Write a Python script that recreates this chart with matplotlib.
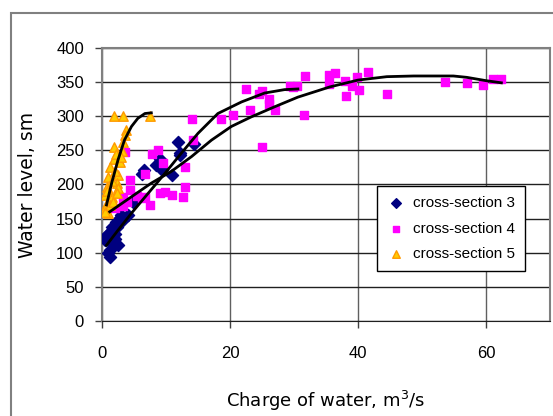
import numpy as np
import matplotlib.pyplot as plt
import matplotlib.patches as patches

# data
s3_x = [0.5, 0.7, 0.8, 1.0, 1.0, 1.2, 1.25, 1.4, 1.5, 1.6, 1.8, 2.0, 2.0, 2.2, 2.3, 2.5,
        2.7, 3.0, 3.3, 4.1, 4.9, 6.2, 6.5, 8.5, 9.1, 9.3, 10.9, 11.9, 12.2, 12.2, 14.4]
s3_y = [118, 121, 126, 128, 100, 94, 104, 115, 132, 138, 112, 128, 120, 145, 138, 111,
        150, 155, 148, 155, 175, 216, 221, 229, 238, 221, 214, 263, 246, 243, 259]

s4_x = [2.0, 3.3, 3.3, 3.9, 4.4, 4.4, 3.6, 5.5, 6.3, 6.7, 7.5, 7.8, 8.8, 9.1, 9.8,
        10.9, 12.7, 13.0, 13.0, 14.0, 14.2, 9.5, 6.7, 18.6, 20.4, 22.5, 23.1, 24.5,
        25.0, 25.0, 26.1, 26.1, 27.0, 29.4, 29.9, 30.4, 31.5, 31.7, 35.4, 36.4, 35.5,
        38.0, 38.1, 39.0, 39.8, 40.2, 41.6, 44.5, 53.6, 57.1, 59.6, 61.1, 62.3]
s4_y = [165, 182, 168, 175, 192, 207, 248, 183, 180, 182, 170, 245, 251, 187, 189,
        185, 181, 197, 225, 296, 265, 231, 216, 296, 302, 340, 309, 333,
        337, 255, 326, 318, 309, 344, 343, 345, 302, 359, 361, 364, 347,
        351, 330, 345, 357, 338, 365, 333, 350, 349, 346, 354, 354]

s5_x = [1.9, 3.3, 7.5, 3.75, 3.6, 3.3, 3.1, 1.8, 2.8, 1.25, 2.5, 1.0, 2.3, 0.7, 2.5,
        0.5, 1.5, 0.7, 0.5, 1.0, 2.3, 1.5, 2.0, 0.5, 1.2, 1.8, 2.2, 0.8, 1.7, 3.0]
s5_y = [300, 300, 300, 280, 272, 263, 249, 238, 233, 226, 214, 211, 202, 197, 195,
        185, 182, 173, 166, 158, 187, 205, 220, 160, 170, 255, 245, 190, 175, 240]

# trend lines
t3_x = [0.7, 2.5, 4.6, 7.2, 9.8, 12.4, 15.0, 18.1, 21.8, 25.4, 28.5, 30.6]
t3_y = [111, 133, 158, 187, 216, 246, 275, 304, 321, 334, 339, 340]
t4_x = [1.2, 4.6, 7.7, 10.8, 14.0, 17.1, 20.2, 23.3, 27.0, 30.6, 35.6, 40.0, 44.5,
        48.7, 54.9, 57.0, 60.1, 62.4]
t4_y = [160, 182, 202, 219, 241, 265, 285, 299, 314, 328, 343, 353, 358,
        359, 359, 357, 352, 349]
t5_x = [0.7, 1.5, 2.5, 3.5, 4.6, 5.6, 6.7, 7.7]
t5_y = [170, 202, 236, 265, 285, 297, 304, 305]

plt.rcParams['font.family'] = 'Liberation Sans'

fig = plt.figure(figsize=(5.53, 4.16), dpi=100)
ax = fig.add_axes([0.1845, 0.2284, 0.8101, 0.6562])

# outer frame of the figure
fig.patches.append(patches.Rectangle((11 / 553, -0.2), 1.2, 1.2 - 13 / 416,
                                     transform=fig.transFigure, fill=False,
                                     edgecolor='#808080', linewidth=1.5))

ax.set_xlim(0, 70)
ax.set_ylim(0, 400)
ax.set_xticks([0, 20, 40, 60])
ax.set_yticks(np.arange(0, 401, 50))
ax.yaxis.grid(True, color='#202020', linewidth=1)
ax.xaxis.grid(True, color='#606060', linewidth=1)
ax.set_axisbelow(True)
for side in ['left', 'right', 'top']:
    ax.spines[side].set_color('#808080')
    ax.spines[side].set_linewidth(1.5)
ax.spines['bottom'].set_color('#202020')
ax.tick_params(direction='out', length=5, width=1, color='#404040', labelsize=12)
ax.tick_params(axis='x', pad=13)
ax.tick_params(axis='y', pad=8)

ax.scatter(s3_x, s3_y, marker='D', s=38, color='#000080', label='cross-section 3', zorder=3)
ax.scatter(s4_x, s4_y, marker='s', s=38, color='#FF00FF', label='cross-section 4', zorder=3)
ax.scatter(s5_x, s5_y, marker='^', s=46, facecolor='#FFCC00', edgecolor='#FF9900',
           linewidth=1, label='cross-section 5', zorder=4)

ax.plot(t3_x, t3_y, color='black', linewidth=2, zorder=5)
ax.plot(t4_x, t4_y, color='black', linewidth=2, zorder=5)
ax.plot(t5_x, t5_y, color='black', linewidth=2, zorder=5)

ax.set_xlabel('Charge of water, m$^3$/s', fontsize=13, labelpad=20,
              family='DejaVu Sans')
ax.set_ylabel('Water level, sm', fontsize=13.5, labelpad=14, family='DejaVu Sans')

leg = ax.legend(loc='upper left', bbox_to_anchor=(0.614, 0.494), fontsize=11,
                frameon=True, fancybox=False, edgecolor='black', framealpha=1,
                borderaxespad=0, handletextpad=0.5, borderpad=0.65,
                labelspacing=0.75, handlelength=1.2, markerscale=0.8)
leg.get_frame().set_linewidth(1)

fig.savefig('out.png', dpi=100)
